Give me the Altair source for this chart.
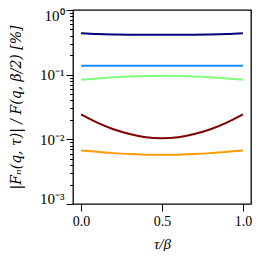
import altair as alt
import pandas as pd

tau = [0.0, 0.1, 0.2, 0.3, 0.4, 0.5, 0.6, 0.7, 0.8, 0.9, 1.0]
navy = [0.437, 0.424, 0.418, 0.416, 0.415, 0.415, 0.415, 0.416, 0.418, 0.424, 0.437]
blue = [0.137, 0.137, 0.137, 0.137, 0.137, 0.137, 0.137, 0.137, 0.137, 0.137, 0.137]
green = [0.0835, 0.0875, 0.0912, 0.0940, 0.0956, 0.0962, 0.0956, 0.0940, 0.0912, 0.0875, 0.0835]
red = [0.0243, 0.0181, 0.0143, 0.0121, 0.0108, 0.0104, 0.0108, 0.0121, 0.0143, 0.0181, 0.0243]
orange = [0.0067, 0.0064, 0.00612, 0.00592, 0.0058, 0.00576, 0.0058, 0.00592, 0.00612, 0.0064, 0.0067]

series_names = ["a", "b", "c", "d", "e"]
series_vals = [navy, blue, green, red, orange]
series_colors = ["#00007f", "#1a8cff", "#80ff7a", "#7f0000", "#ff9a00"]

x_ticks = [0.0, 0.5, 1.0]
y_ticks = [0.001, 0.002, 0.003, 0.004, 0.005, 0.006, 0.007, 0.008, 0.009,
           0.01, 0.02, 0.03, 0.04, 0.05, 0.06, 0.07, 0.08, 0.09,
           0.1, 0.2, 0.3, 0.4, 0.5, 0.6, 0.7, 0.8, 0.9, 1.0]

rows = []
for name, vals in zip(series_names, series_vals):
    for t, v in zip(tau, vals):
        rows.append({"tau": t, "val": v, "s": name})
df = pd.DataFrame(rows)

FONT = "Liberation Serif"
TFONT = "DejaVu Serif"
major_test = "abs(log(datum.value)/LN10 - round(log(datum.value)/LN10)) < 1e-6"

chart = alt.Chart(df).mark_line(strokeWidth=2, interpolate="monotone").encode(
    x=alt.X("tau:Q", scale=alt.Scale(domain=[-0.05, 1.05], nice=False, zero=False),
            axis=alt.Axis(values=x_ticks, format=".1f", title="τ/β", grid=False,
                          domain=False, tickSize=7, tickColor="black", tickWidth=1,
                          labelFont=FONT, labelFontSize=14, labelColor="black",
                          labelPadding=3, titleFont=FONT, titleFontSize=15,
                          titleFontStyle="italic", titleFontWeight="normal",
                          titleColor="black", titlePadding=8)),
    y=alt.Y("val:Q", scale=alt.Scale(type="log", domain=[0.001, 1], nice=False),
            axis=alt.Axis(values=y_ticks, grid=False, domain=False,
                          tickSize={"condition": {"test": major_test, "value": 7}, "value": 3.5},
                          tickColor="black", tickWidth=1,
                          labelExpr="datum.value == 1 ? '10⁰' : datum.value == 0.1 ? '10⁻¹' : datum.value == 0.01 ? '10⁻²' : datum.value == 0.001 ? '10⁻³' : ''",
                          labelFont=FONT, labelFontSize=15, labelColor="black",
                          labelPadding=2, labelOverlap=False,
                          labelFlush=True, labelFlushOffset=2,
                          title="|Fₙ(q, τ)| / F(q, β/2) [%]",
                          titleFont=TFONT, titleFontSize=14, titleFontStyle="italic",
                          titleFontWeight="normal", titleColor="black", titlePadding=16)),
    color=alt.Color("s:N", scale=alt.Scale(domain=series_names, range=series_colors), legend=None),
).properties(
    width=178, height=194,
    autosize=alt.AutoSizeParams(type="none"),
    padding={"left": 65, "top": 2, "right": 1, "bottom": 47},
).configure_view(stroke="black", strokeWidth=1.3)

chart.save("out.html", embed_options={"renderer": "svg", "actions": False})
